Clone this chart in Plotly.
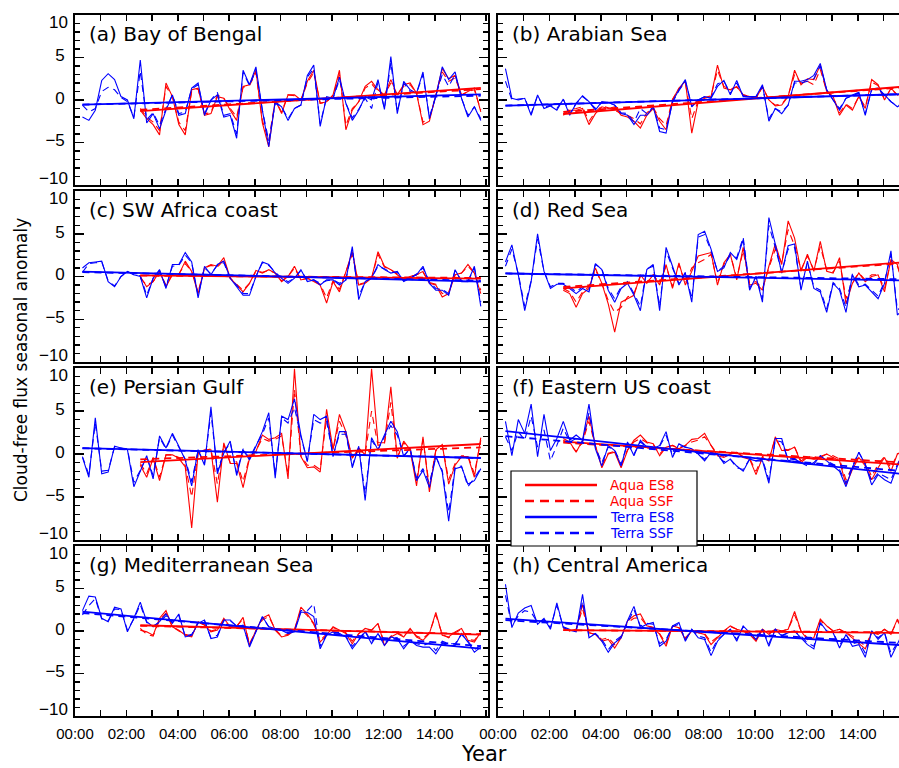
import numpy as np
import plotly.graph_objects as go

# ---------------- data (seasonal anomalies) ----------------
terra_start = 2000.29   # first Terra season (MAM 2000, centre)
aqua_start = 2002.54    # first Aqua season (JJA 2002, centre)
season_step = 0.25

x_tick_vals = [2000, 2002, 2004, 2006, 2008, 2010, 2012, 2014]
x_tick_text = ["00:00", "02:00", "04:00", "06:00", "08:00", "10:00", "12:00", "14:00"]
y_tick_vals = [-10, -5, 0, 5, 10]

panel_titles = ["(a) Bay of Bengal", "(b) Arabian Sea", "(c) SW Africa coast", "(d) Red Sea",
                "(e) Persian Gulf", "(f) Eastern US coast", "(g) Mediterranean Sea",
                "(h) Central America"]
series_names = ["Aqua ES8", "Aqua SSF", "Terra ES8", "Terra SSF"]

# (a) Bay of Bengal
a_terra_es8 = [-2.0,-2.4,-1.2,2.3,3.1,2.4,0.4,0.0,-2.2,4.7,-2.7,-1.6,-3.4,-1.2,0.6,-1.8,-1.6,1.4,2.0,-1.8,0.0,0.6,-2.0,-1.8,-4.5,3.5,1.8,3.9,-1.2,-5.5,-0.2,-0.8,-2.4,-1.0,-0.6,2.9,4.1,-3.1,0.4,0.2,2.7,-0.4,-2.4,-1.2,0.4,0.0,2.4,-1.1,5.1,-1.6,2.2,1.2,0.8,3.3,-2.2,0.4,3.9,2.4,3.3,0.2,-2.0,-0.8,-2.4]
a_terra_ssf = [-0.6,-1.4,-1.0,1.0,1.5,1.2,0.3,-0.2,-2.0,3.4,-2.3,-1.5,-3.0,-1.0,0.6,-1.6,-1.4,1.3,1.8,-1.6,0.0,0.9,-1.8,-1.6,-4.0,3.2,1.7,3.5,-1.2,-4.8,-0.4,-0.8,-2.2,-1.0,-0.6,2.7,3.7,-2.8,0.3,0.2,2.4,-0.4,-2.1,-1.1,0.2,-1.0,2.1,-1.0,4.4,-1.4,2.0,1.0,0.8,3.0,-2.0,0.4,3.0,1.6,3.0,0.2,-1.8,-0.8,-2.2]
a_aqua_es8 = [-1.2,-2.2,-2.9,-4.1,2.0,0.4,-2.9,-4.1,1.2,1.4,-1.8,-1.6,0.4,0.2,-1.2,-2.4,1.6,1.8,3.5,-2.7,-5.5,0.0,-1.6,0.6,0.6,0.0,2.2,3.5,-0.4,-0.2,0.6,3.5,-3.5,-1.2,-0.2,1.6,2.2,1.2,0.6,2.4,0.6,1.8,2.0,0.8,-2.9,-2.5,0.6,3.7,2.5,2.9,0.6,1.0,1.4,-1.4]
a_aqua_ssf = [-1.0,-2.0,-2.6,-3.6,1.6,0.4,-2.6,-3.6,1.0,1.3,-1.6,-1.5,0.6,0.2,-1.0,-2.0,1.5,1.7,3.2,-2.4,-4.8,0.0,-1.4,0.6,0.5,0.0,2.0,3.2,-0.4,-0.2,0.5,3.0,-3.0,-1.0,-0.2,1.4,1.9,1.0,0.6,2.0,0.6,1.6,1.8,0.8,-2.6,-2.2,0.5,3.3,2.2,2.6,0.6,1.0,1.2,-1.2]

# (b) Arabian Sea
b_terra_es8 = [3.7,0.2,0.0,0.2,-1.8,0.6,-1.0,-0.7,-1.2,0.1,-1.8,-0.4,0.5,-0.2,-1.2,-0.2,-0.3,-0.6,-1.6,-1.8,-2.9,-1.8,-1.8,-0.8,-3.7,-3.9,-0.2,1.2,2.4,-0.8,0.0,0.4,0.2,1.6,2.3,0.6,2.3,0.4,0.4,0.4,1.8,-2.5,-1.0,-1.6,-0.6,2.2,2.2,2.4,2.9,4.3,1.2,0.0,-1.2,0.2,0.6,0.9,-1.8,1.3,1.4,0.6,-0.2,-0.8,-0.4]
b_terra_ssf = [2.2,0.0,0.1,0.2,-1.6,0.5,-0.9,-0.6,-1.0,0.1,-1.6,-0.4,0.4,-0.2,-1.0,-0.3,-0.3,-0.6,-1.5,-1.6,-2.6,-1.0,-1.6,-0.8,-3.3,-3.5,-0.3,1.1,2.2,-0.7,0.0,0.4,0.3,1.9,2.2,0.8,2.0,0.5,0.4,0.4,1.6,-2.2,-1.0,-1.4,-0.6,2.0,2.0,2.2,2.5,4.0,1.2,0.0,-1.0,0.2,0.5,0.8,-1.6,1.2,1.3,0.6,-0.2,-0.7,-0.4]
b_aqua_es8 = [-1.8,-1.2,-1.2,-1.0,-2.9,-1.6,-0.8,-1.0,-0.8,-1.8,-2.0,-2.5,-3.3,-1.8,-1.0,-2.5,-3.5,0.0,1.4,2.2,-3.9,-0.2,0.2,0.4,4.1,1.4,1.2,1.6,0.6,0.4,0.2,1.6,0.0,-0.7,-0.6,0.4,3.5,1.8,2.5,2.4,4.1,1.0,0.4,-1.8,-0.6,-1.2,0.4,-1.0,2.4,1.8,0.0,1.4,0.6,0.8]
b_aqua_ssf = [-1.6,-1.1,-1.0,-0.8,-2.5,-1.4,-0.7,-0.9,-1.2,-1.6,-1.8,-2.2,-2.8,-1.5,-0.9,-2.2,-3.0,0.1,1.3,2.0,-2.2,-0.1,0.3,0.5,3.5,1.6,1.3,1.5,0.6,0.4,0.2,1.5,0.0,-0.6,-0.5,0.5,3.0,2.0,2.2,1.8,3.6,1.0,0.4,-1.5,-0.5,-1.0,0.4,-0.8,2.1,1.7,0.1,1.3,0.6,0.8]

# (c) SW Africa coast
c_terra_es8 = [1.0,1.6,1.7,1.8,-0.6,-1.2,0.0,0.6,0.2,0.0,-2.5,-0.2,0.8,-1.4,1.4,1.4,2.8,1.7,-2.5,1.2,0.2,1.4,1.8,-0.2,-1.2,-2.2,-2.2,0.0,1.7,1.4,0.4,-0.2,-0.8,-0.2,0.8,-0.6,-0.4,-1.0,-0.4,-0.4,-1.0,-0.4,3.5,-2.7,-0.6,-0.2,1.4,0.8,0.4,0.6,-0.6,-0.2,0.2,1.2,-0.8,-1.6,-1.6,-2.2,0.8,-0.6,-0.6,1.2,-3.5]
c_terra_ssf = [0.5,1.5,1.6,1.7,-0.5,-1.1,0.0,0.6,0.2,0.1,-2.2,-0.2,0.7,-1.2,1.2,1.3,2.5,1.6,-2.2,1.0,0.3,1.3,1.6,-0.2,-1.0,-2.0,-2.0,0.0,1.6,1.3,0.5,-0.2,-0.6,-0.2,0.7,-0.4,-0.4,-0.8,-0.5,-0.4,-0.8,-0.4,3.2,-2.3,-0.6,-0.2,1.2,0.9,0.5,0.5,-0.5,-0.2,0.3,1.0,-0.6,-1.4,-1.5,-2.0,0.7,-0.5,-0.5,1.0,-3.0]
c_aqua_es8 = [0.0,-1.2,-0.6,0.6,-1.2,0.2,0.2,1.8,0.6,-2.0,1.0,1.4,1.2,2.2,-0.2,-1.0,-1.8,-0.8,0.7,0.4,0.8,0.4,-0.6,0.0,1.2,-0.4,-0.2,-0.6,-1.0,-3.1,-0.6,-1.8,0.6,2.9,-1.0,-0.8,-0.2,2.9,1.2,0.8,0.2,-0.4,0.0,0.2,0.6,-0.8,-1.0,-2.4,-2.0,0.2,0.4,1.4,0.4,-2.0]
c_aqua_ssf = [-0.2,-1.0,-0.6,0.5,-1.0,0.2,0.3,1.5,0.6,-1.8,1.0,1.3,1.1,1.9,-0.2,-0.9,-1.6,-0.8,0.6,0.5,0.7,0.4,-0.5,0.0,1.0,-0.4,-0.2,-0.5,-0.9,-2.5,-0.5,-1.5,0.5,2.6,-0.9,-0.7,-0.2,2.6,1.1,0.8,0.3,-0.3,0.0,0.2,0.5,-0.7,-0.9,-2.0,-1.8,0.2,0.4,1.2,0.4,-1.6]

# (d) Red Sea
d_terra_es8 = [1.7,3.7,0.2,-4.0,-0.6,5.0,0.6,-1.4,-0.9,-0.9,-1.4,-2.0,-1.4,-1.8,1.5,0.8,-1.6,-3.0,-1.4,-0.8,-2.2,-4.0,0.8,1.4,-4.0,3.4,1.2,-1.0,0.4,-3.0,4.9,5.3,3.2,0.6,1.0,2.8,2.0,4.3,-1.6,0.0,-3.0,6.9,3.8,0.4,3.6,3.8,-1.6,1.8,-1.4,-1.8,-4.2,-0.8,-1.6,-4.2,0.2,-1.2,-1.0,-1.8,-2.6,-0.8,3.0,-4.5,-3.8]
d_terra_ssf = [1.2,3.2,0.3,-3.5,-0.5,4.4,0.6,-1.2,-0.8,-0.8,-1.2,-1.8,-1.2,-1.6,1.4,0.9,-1.4,-2.6,-1.2,-0.6,-2.0,-3.5,0.9,1.2,-3.5,3.0,1.0,-0.8,0.5,-2.6,4.6,4.9,3.0,0.6,1.2,2.5,2.2,4.6,-1.4,0.0,-2.6,6.0,3.4,0.5,3.2,3.4,-1.4,1.6,-1.2,-1.6,-3.8,-0.7,-1.4,-3.6,0.3,-1.0,-0.9,-1.6,-2.3,-0.6,2.6,-3.9,-3.4]
d_aqua_es8 = [-1.6,-2.0,-3.6,-2.0,-1.4,1.0,-0.8,-3.2,-6.5,-3.0,-2.6,-2.2,0.2,-0.8,0.2,-1.0,1.4,-1.4,1.6,-1.0,0.6,2.4,2.6,2.8,-1.0,1.6,2.6,-0.4,3.4,-1.0,-0.8,-1.6,1.2,3.8,1.4,6.5,4.5,0.6,2.6,0.6,4.1,0.6,0.4,2.2,-3.2,-0.8,0.4,-0.6,0.0,0.2,-1.8,2.0,1.4,-1.4]
d_aqua_ssf = [-1.4,-1.8,-3.0,-1.8,-1.2,0.8,-0.8,-2.8,-4.2,-3.6,-2.4,-2.0,0.0,-0.7,0.2,-0.8,1.2,-1.2,1.4,-0.8,1.0,1.6,2.0,2.6,-0.8,1.4,2.6,-0.2,3.0,-0.8,-0.6,-1.4,1.0,3.2,1.6,5.5,3.6,0.8,2.4,0.8,3.5,0.8,0.5,1.8,-2.6,-0.6,0.4,-0.4,0.2,0.2,-1.4,1.8,1.2,-1.0]

# (e) Persian Gulf
e_terra_es8 = [-0.4,-2.7,4.2,-2.3,-2.1,0.9,0.7,0.5,-3.8,-2.1,-0.2,-2.9,2.1,0.7,2.4,0.9,-0.7,-3.7,0.5,-1.3,5.5,-2.3,0.1,1.5,-2.5,0.5,-0.7,0.9,2.6,4.8,-2.8,4.4,4.0,6.4,2.2,-0.9,4.6,4.0,4.4,-0.3,2.6,2.6,-1.6,0.9,-5.4,1.9,0.5,2.2,3.8,2.6,-0.3,0.7,-3.1,-1.9,-3.9,-0.3,-2.1,-7.8,-1.7,-1.5,-3.5,-3.1,-1.7]
e_terra_ssf = [-0.3,-2.4,3.6,-2.0,-1.9,0.8,0.7,0.6,-3.3,-1.9,-0.3,-2.5,1.9,0.6,2.2,0.8,-0.6,-3.2,0.4,-1.1,4.8,-2.0,0.2,1.3,-2.2,0.6,-0.5,1.0,2.3,4.2,-2.4,4.2,3.6,5.4,2.0,-0.8,4.0,3.6,3.8,-0.2,2.3,2.3,-1.4,0.8,-4.6,1.6,0.5,2.0,3.3,2.2,-0.2,0.6,-2.8,-1.7,-3.4,-0.3,-1.9,-6.8,-1.5,-1.4,-3.8,-2.8,-1.6]
e_aqua_es8 = [-1.3,-2.7,-0.5,-3.1,-0.1,-0.1,-0.5,-1.5,-8.6,0.1,0.5,0.5,-5.6,1.3,-1.1,-1.1,-3.9,-0.5,0.3,2.2,1.7,1.9,2.4,-2.9,9.9,-0.3,-1.6,-1.5,-2.1,5.2,0.5,4.6,2.6,-0.5,0.7,-0.1,9.9,1.3,1.3,7.8,-0.5,1.5,0.5,-3.7,2.0,-4.4,0.5,1.1,-3.5,-1.3,-0.3,-0.3,-2.7,1.9]
e_aqua_ssf = [-1.1,-2.3,-0.4,-2.7,-0.1,-0.1,-0.4,-1.3,-5.0,0.1,0.4,0.6,-3.5,1.1,-1.0,-0.9,-3.2,-0.4,0.4,1.8,1.5,1.7,2.1,-2.4,7.5,-0.2,-1.3,-1.3,-1.8,4.2,0.5,3.8,2.2,-0.4,0.6,0.0,5.0,1.0,1.2,6.0,-0.4,1.3,0.5,-3.2,1.7,-3.8,0.4,1.0,-3.0,-1.1,-0.2,-0.2,-2.3,1.6]

# (f) Eastern US coast
f_terra_es8 = [3.8,-0.2,4.0,2.4,5.8,-0.3,4.6,0.4,1.8,3.8,1.6,2.2,1.6,5.8,0.6,-1.4,1.0,0.4,-1.4,1.4,-0.2,1.6,0.8,0.6,1.0,2.6,-0.4,1.2,0.8,0.6,0.0,-0.8,0.2,0.0,-1.1,-0.6,-1.4,-2.0,-0.6,-0.8,-0.8,-3.4,1.8,1.8,-0.8,-0.6,-1.0,-1.2,-1.2,-0.2,-0.8,-1.4,-2.0,-3.8,-1.6,0.2,-1.2,-3.6,-2.4,-3.0,-3.4,-1.4,0.4]
f_terra_ssf = [2.0,0.4,2.6,1.6,4.4,0.8,2.8,-0.8,1.0,3.0,1.4,1.8,1.4,4.8,0.8,-1.0,0.8,0.5,-1.2,1.2,0.0,1.4,0.8,0.6,0.9,2.2,-0.2,1.0,0.8,0.5,0.0,-0.6,0.2,-0.2,-0.9,-0.6,-1.6,-1.8,-0.6,-0.8,-0.6,-3.0,1.6,1.4,-0.6,-0.5,-1.0,-1.4,-1.0,-0.2,-0.8,-1.2,-1.8,-3.4,-1.4,0.2,-1.2,-3.2,-2.2,-2.6,-3.0,-1.2,0.3]
f_aqua_es8 = [1.8,1.4,0.2,1.6,4.4,1.0,-1.6,0.0,0.2,-1.6,0.4,1.6,2.2,1.4,1.2,-0.2,0.8,1.0,0.6,1.0,1.7,1.8,2.4,1.0,-0.2,-0.4,0.0,0.2,-0.4,-0.6,-2.4,-0.4,-0.8,2.0,0.4,0.4,0.8,-1.0,-0.4,-0.6,-0.4,0.0,-0.4,-0.8,-3.6,-1.8,-0.4,-1.4,-3.0,-1.6,-0.4,-2.0,0.0,0.4]
f_aqua_ssf = [1.6,1.2,0.3,1.4,3.8,0.9,-1.3,0.1,0.3,-1.3,0.5,1.4,1.8,1.3,1.1,0.0,0.8,1.0,0.7,1.0,1.4,1.6,2.0,1.0,0.0,-0.3,0.0,0.2,-0.3,-0.5,-2.0,-0.3,-0.6,1.8,0.6,0.5,0.8,-0.8,-0.3,-0.4,-0.3,0.0,-0.2,-0.6,-3.0,-1.5,-0.3,-1.0,-2.6,-1.2,-0.3,-1.6,0.0,0.3]

# (g) Mediterranean Sea
g_terra_es8 = [2.4,4.1,4.0,1.5,1.1,2.8,2.6,-0.1,1.5,3.4,1.1,0.5,1.1,2.0,0.9,2.0,-0.7,-0.5,0.9,1.3,-0.9,-0.7,1.3,1.3,0.5,0.7,-1.9,-0.1,1.7,0.5,0.3,0.1,-0.3,-0.1,2.2,2.2,1.7,-2.1,-0.5,-0.1,-0.3,-0.7,-2.1,-1.1,-0.1,-1.5,-0.3,-1.7,-0.7,-0.9,-2.1,-1.1,-1.7,-1.9,-1.9,-2.7,-1.5,-1.7,-1.7,-0.3,-1.3,-2.5,-1.9]
g_terra_ssf = [1.9,3.0,3.8,1.4,1.2,2.6,2.5,0.1,1.4,3.1,1.0,0.6,1.0,1.8,1.0,1.8,-0.6,-0.4,1.0,1.2,-0.8,-0.5,1.2,1.2,0.6,0.6,-1.7,0.0,1.6,0.5,0.3,0.2,-0.2,0.0,2.4,2.4,3.2,-1.8,-0.4,-0.1,-0.2,-0.6,-1.8,-1.0,0.0,-1.3,-0.3,-1.5,-0.7,-0.8,-1.8,-1.2,-1.5,-1.7,-1.4,-2.3,-1.2,-1.5,-1.5,-0.4,-1.2,-2.2,-1.7]
g_aqua_es8 = [0.1,-0.1,-0.5,1.5,2.4,0.5,0.1,-0.5,-0.7,1.1,0.7,-0.1,0.1,1.5,0.5,0.5,1.6,-1.7,0.1,1.5,1.9,0.1,-0.7,-0.5,0.1,2.8,2.0,0.9,-1.3,-0.5,0.5,0.1,-0.3,-1.5,-0.3,0.3,0.1,0.9,-1.7,-0.7,-0.3,-0.7,0.3,-0.7,-1.1,-0.3,2.2,-0.5,-0.7,-0.1,0.3,-1.1,-1.3,-0.1]
g_aqua_ssf = [0.3,-0.4,-0.6,1.3,2.1,0.5,0.0,-0.4,-0.6,1.0,0.7,0.0,0.2,1.3,0.4,0.6,1.4,-1.5,0.0,1.3,1.7,0.2,-0.6,-0.4,0.2,2.5,1.8,0.8,-1.1,-0.4,0.4,0.1,-0.2,-1.2,-0.3,0.2,0.1,0.8,-1.4,-0.6,-0.2,-0.6,0.2,-0.6,-0.9,-0.2,1.9,-0.4,-0.8,-0.2,0.2,-1.0,-1.1,-0.2]

# (h) Central America
h_terra_es8 = [5.5,0.4,2.1,2.7,3.0,0.8,1.5,0.2,3.3,0.4,0.1,-0.1,4.3,-0.8,-0.3,-1.2,-2.5,-1.4,-0.8,1.2,2.9,0.4,0.8,1.0,-1.8,-1.2,0.6,1.0,-1.2,0.2,-0.8,-1.0,-2.9,-1.2,-0.4,0.2,-1.2,0.6,-0.2,-1.0,0.2,-1.8,0.2,-0.6,-0.2,0.0,-0.8,-1.6,-2.1,1.0,0.0,-0.2,-2.0,-0.4,-1.8,-1.6,-3.1,0.0,-1.0,-0.2,-3.1,-1.6,0.0]
h_terra_ssf = [4.2,0.6,1.8,2.4,2.2,1.0,1.3,0.4,3.0,0.5,0.2,0.0,3.5,-0.6,-0.3,-1.0,-2.2,-1.2,-0.6,1.0,2.5,0.6,0.9,0.8,-1.5,-1.0,0.5,0.8,-1.0,0.2,-0.6,-0.8,-2.5,-1.0,-0.4,0.2,-1.0,0.5,-0.2,-0.8,0.2,-1.5,0.2,-0.5,-0.2,0.0,-0.6,-1.4,-1.8,0.9,0.0,-0.2,-1.7,-0.4,-1.5,-1.3,-2.6,0.0,-0.8,-0.2,-2.6,-1.4,0.0]
h_aqua_es8 = [0.4,0.0,0.2,3.1,-0.2,-0.4,-1.2,-1.0,-2.0,-0.8,1.2,1.8,2.0,0.6,0.4,-0.4,-1.8,0.6,0.4,-1.0,0.0,-0.2,-0.4,-1.6,-0.8,0.0,0.6,0.2,0.0,-0.4,-1.2,0.2,-0.4,0.2,0.0,0.2,2.3,0.0,-1.0,-0.8,1.4,0.6,0.0,0.2,-0.2,-0.8,-1.4,-2.1,-0.2,-0.4,0.2,-0.4,1.4,0.0]
h_aqua_ssf = [0.3,0.0,0.2,2.6,-0.2,-0.4,-1.0,-0.8,-1.6,-0.7,1.0,1.5,1.6,0.6,0.4,-0.3,-1.5,0.5,0.4,-0.8,0.0,-0.2,-0.3,-1.3,-0.7,0.0,0.5,0.2,0.0,-0.3,-1.0,0.2,-0.3,0.2,0.0,0.2,1.9,0.0,-0.8,-0.7,1.2,0.6,0.0,0.2,-0.2,-0.6,-1.1,-1.8,-0.2,-0.3,0.2,-0.3,1.2,0.0]

panels = [
    (a_aqua_es8, a_aqua_ssf, a_terra_es8, a_terra_ssf),
    (b_aqua_es8, b_aqua_ssf, b_terra_es8, b_terra_ssf),
    (c_aqua_es8, c_aqua_ssf, c_terra_es8, c_terra_ssf),
    (d_aqua_es8, d_aqua_ssf, d_terra_es8, d_terra_ssf),
    (e_aqua_es8, e_aqua_ssf, e_terra_es8, e_terra_ssf),
    (f_aqua_es8, f_aqua_ssf, f_terra_es8, f_terra_ssf),
    (g_aqua_es8, g_aqua_ssf, g_terra_es8, g_terra_ssf),
    (h_aqua_es8, h_aqua_ssf, h_terra_es8, h_terra_ssf),
]

# ---------------- layout geometry (pixels) ----------------
W, H = 899, 768
PX_PER_YEAR = 25.7
col_px = [(75, 488), (498, 899)]
row_px = [(15, 185), (191, 362), (368, 540), (546, 716)]
RED, BLUE = "#ff0000", "#0000ff"
DASH = "7px,5px"
colors = [RED, RED, BLUE, BLUE]
dashes = ["solid", DASH, "solid", DASH]
TICKFONT = "Liberation Sans"
TEXTFONT = "DejaVu Sans"

fig = go.Figure()
layout = dict(width=W, height=H, margin=dict(l=0, r=0, t=0, b=0, pad=0, autoexpand=False),
              paper_bgcolor="white", plot_bgcolor="white", showlegend=False)
annotations = []
shapes = []

for k, series in enumerate(panels):
    row, col = divmod(k, 2)
    sfx = "" if k == 0 else str(k + 1)
    xa, ya = "x" + sfx, "y" + sfx
    x0p, x1p = col_px[col]
    y0p, y1p = row_px[row]

    xs_list = []
    for j, ys in enumerate(series):
        start = aqua_start if j < 2 else terra_start
        xs = [start + season_step * i for i in range(len(ys))]
        xs_list.append(xs)
        fig.add_trace(go.Scatter(x=xs, y=ys, mode="lines", name=series_names[j],
                                 line=dict(color=colors[j], width=1.1, dash=dashes[j]),
                                 xaxis=xa, yaxis=ya, hoverinfo="skip"))
    # linear trends
    for j, ys in enumerate(series):
        xs = np.array(xs_list[j])
        slope, icpt = np.polyfit(xs, np.array(ys), 1)
        xe = [xs[0], xs[-1]]
        fig.add_trace(go.Scatter(x=xe, y=[slope * v + icpt for v in xe], mode="lines",
                                 name=series_names[j] + " trend",
                                 line=dict(color=colors[j], width=1.8, dash=dashes[j]),
                                 xaxis=xa, yaxis=ya, hoverinfo="skip"))

    x_end = 2000 + (x1p - x0p) / PX_PER_YEAR
    layout["xaxis" + sfx] = dict(
        domain=[x0p / W, x1p / W], range=[2000, x_end], anchor=ya,
        tickmode="array", tickvals=x_tick_vals, ticktext=x_tick_text,
        showticklabels=(row == 3), ticks="inside", ticklen=6, tickwidth=1.5, tickcolor="black",
        minor=dict(ticks="inside", ticklen=6, tickwidth=1.5, tickcolor="black",
                   tickmode="linear", tick0=2000, dtick=1),
        showline=True, linecolor="black", linewidth=1.8, mirror="ticks",
        showgrid=False, zeroline=False, fixedrange=True, automargin=False,
        tickfont=dict(family=TICKFONT, size=15, color="black"), ticklabelstandoff=3)
    layout["yaxis" + sfx] = dict(
        domain=[1 - y1p / H, 1 - y0p / H], range=[-10, 10], anchor=xa,
        tickmode="array", tickvals=y_tick_vals, ticktext=["", "\u22125", "0", "5", ""],
        showticklabels=(col == 0), ticks="inside", ticklen=9, tickwidth=1.5, tickcolor="black",
        minor=dict(ticks="inside", ticklen=5, tickwidth=1.3, tickcolor="black",
                   tickmode="linear", tick0=0, dtick=1),
        showline=True, linecolor="black", linewidth=1.8,
        mirror=("ticks" if col == 0 else False),
        showgrid=False, zeroline=False, fixedrange=True, automargin=False,
        tickfont=dict(family=TICKFONT, size=17, color="black"),
        ticklabelstandoff=5, ticklabelshift=-2)

    # panel title
    annotations.append(dict(text=panel_titles[k], xref="paper", yref="paper",
                            x=(x0p + 12) / W, y=1 - (y0p + 19) / H,
                            xanchor="left", yanchor="middle", showarrow=False,
                            font=dict(family=TEXTFONT, size=20, color="black")))
    # edge tick labels (placed inside the panel extent, as in the original)
    if col == 0:
        for val, lab in [(9.1, "10"), (-9.2, "\u221210")]:
            annotations.append(dict(text=lab, xref="paper", yref=ya, x=(x0p - 5) / W, y=val,
                                    xanchor="right", yanchor="middle", showarrow=False,
                                    font=dict(family=TICKFONT, size=17, color="black")))

# axis titles
annotations.append(dict(text="Cloud-free flux seasonal anomaly", xref="paper", yref="paper",
                        x=21 / W, y=1 - 360 / H, textangle=-90, showarrow=False,
                        xanchor="center", yanchor="middle",
                        font=dict(family=TEXTFONT, size=17, color="black")))
annotations.append(dict(text="Year", xref="paper", yref="paper", x=484 / W, y=1 - 754 / H,
                        showarrow=False, xanchor="center", yanchor="middle", borderpad=0,
                        font=dict(family=TEXTFONT, size=21, color="black")))

# legend (drawn as a boxed key inside panel f)
leg_box = (511, 471, 697, 546)
shapes.append(dict(type="rect", xref="paper", yref="paper", layer="above",
                   x0=leg_box[0] / W, x1=leg_box[2] / W,
                   y0=1 - leg_box[3] / H, y1=1 - leg_box[1] / H,
                   fillcolor="white", line=dict(color="black", width=1.2)))
leg_rows = [485, 501, 517, 533]
for j, ypx in enumerate(leg_rows):
    shapes.append(dict(type="line", xref="paper", yref="paper", layer="above",
                       x0=525 / W, x1=597 / W, y0=1 - ypx / H, y1=1 - ypx / H,
                       line=dict(color=colors[j], width=2.5,
                                 dash=("solid" if dashes[j] == "solid" else "9px,6px"))))
    annotations.append(dict(text=series_names[j], xref="paper", yref="paper",
                            x=609 / W, y=1 - ypx / H, xanchor="left", yanchor="middle",
                            showarrow=False, borderpad=0,
                            font=dict(family=TEXTFONT, size=13.5, color=colors[j])))

layout["annotations"] = annotations
layout["shapes"] = shapes
fig.update_layout(**layout)
fig.write_html("out.html", config={"displayModeBar": False, "staticPlot": True},
               post_script="document.body.style.margin='0px';document.body.style.overflow='hidden';")
